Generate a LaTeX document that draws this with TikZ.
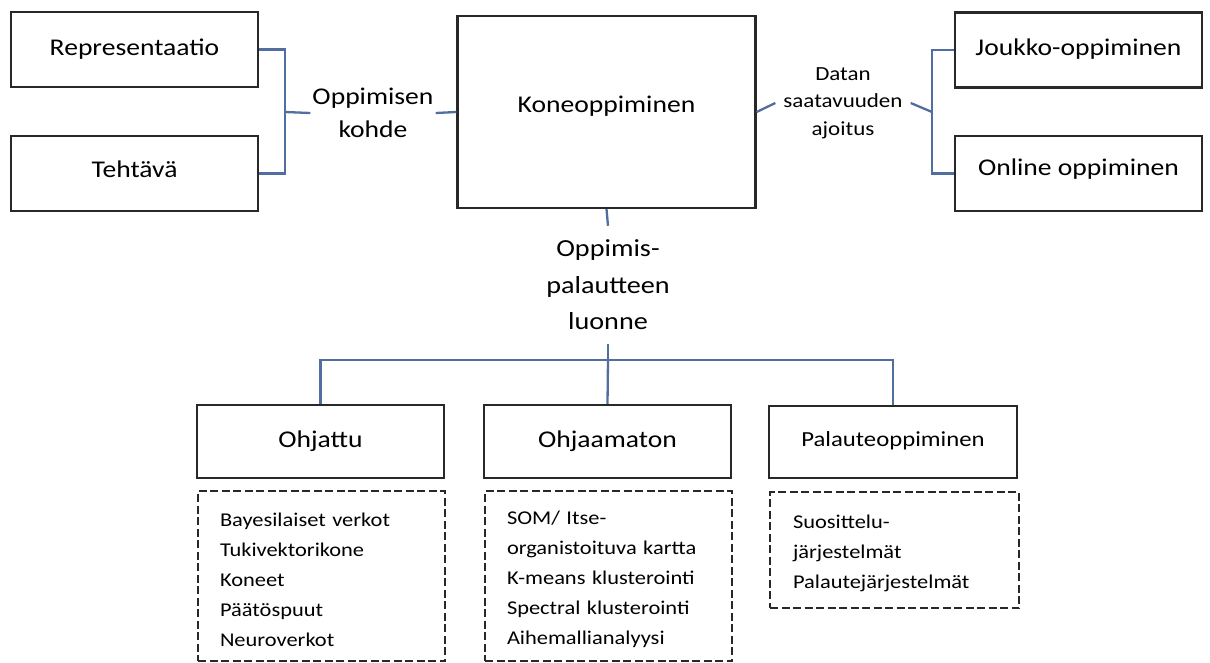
\documentclass[tikz,border=0pt]{standalone}
\usepackage{fontspec}
\setmainfont{Carlito}[FakeStretch=1.15]
\definecolor{boxc}{RGB}{40,40,40}
\definecolor{connc}{RGB}{82,110,160}
\begin{document}
\begin{tikzpicture}[x=1pt,y=-1pt,
  box/.style={draw=boxc, line width=2.2pt, minimum width=247pt, minimum height=75pt, inner sep=0pt, font=\fontsize{24}{30}\selectfont},
  listbox/.style={draw=boxc, line width=2pt, dash pattern=on 8pt off 3.5pt, align=left, text width=203pt, inner xsep=22pt, inner ysep=0pt, anchor=north west, font=\fontsize{19.5}{30}\selectfont},
  conn/.style={draw=connc, line width=2.3pt},
  lbl/.style={align=center, inner sep=2pt}
]
\useasboundingbox (0,0) rectangle (1210,662);
% top row
\node[box] (rep) at (134.5,49.5) {Representaatio};
\node[box] (teht) at (134.5,173.5) {\raisebox{9pt}{Tehtävä}};
\node[box, minimum width=298pt, minimum height=192pt] (kone) at (606.5,112) {\raisebox{15.5pt}{Koneoppiminen}};
\node[box] (joukko) at (1078.5,50) {\raisebox{6pt}{Joukko-oppiminen}};
\node[box] (online) at (1078.5,173.5) {\raisebox{13pt}{Online oppiminen}};
% labels
\node[lbl, font=\fontsize{24}{33}\selectfont] (kohde) at (373,113) {Oppimisen\\kohde};
\node[lbl, inner xsep=8pt, font=\fontsize{20}{27.5}\selectfont] (datan) at (843,103) {Datan\\saatavuuden\\ajoitus};
\node[lbl, inner ysep=14pt, font=\fontsize{24.5}{36.5}\selectfont] (opp) at (608,285) {Oppimis-\\palautteen\\luonne};
% junctions
\coordinate (jL) at (285,112);
\coordinate (jR) at (932,112);
\coordinate (jB) at (608,360);
% bottom row
\node[box, minimum height=73pt] (ohj) at (320.5,441.5) {Ohjattu};
\node[box, minimum height=73pt] (ohjm) at (607.5,441.5) {Ohjaamaton};
\node[box, minimum width=248pt, minimum height=72pt, font=\fontsize{21.5}{28}\selectfont] (pal) at (893,442) {\raisebox{5pt}{Palauteoppiminen}};
% list boxes
\node[listbox, minimum height=170pt] (l1) at (197,490) {\rule{0pt}{21pt}Bayesilaiset verkot\\Tukivektorikone\\Koneet\\Päätöspuut\\Neuroverkot};
\node[listbox, minimum height=170pt] (l2) at (484,490) {\rule{0pt}{21pt}SOM/ Itse-\\organistoituva kartta\\K-means klusterointi\\Spectral klusterointi\\Aihemallianalyysi};
\node[listbox, minimum height=116pt, minimum width=248pt, inner xsep=23pt] (l3) at (769,491) {\rule{0pt}{21pt}Suosittelu-\\järjestelmät\\Palautejärjestelmät};
% connectors
\draw[conn] (rep.east) -| (jL) |- (teht.east);
\draw[conn] (jL) -- (kohde.west);
\draw[conn] (kohde.east) -- (kone.west);
\draw[conn] (kone.east) -- (datan.west);
\draw[conn] (datan.east) -- (jR);
\draw[conn] (joukko.west) -| (jR) |- (online.west);
\draw[conn] (kone.south) -- (opp.north);
\draw[conn] (opp.south) -- (jB);
\draw[conn] (ohj.north) |- (jB) -| (pal.north);
\draw[conn] (jB) -- (ohjm.north);
\end{tikzpicture}
\end{document}
